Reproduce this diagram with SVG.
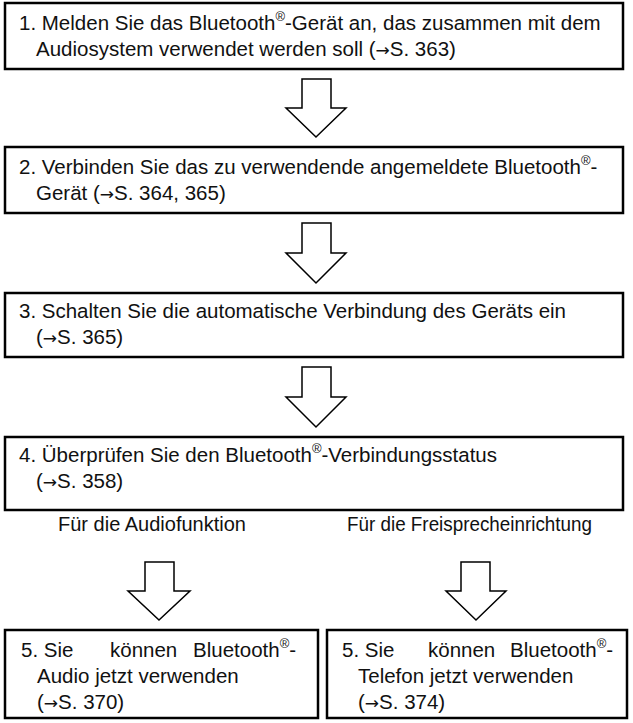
<svg xmlns="http://www.w3.org/2000/svg" width="633" height="723" viewBox="0 0 633 723">
<style>
.b{fill:#fff;stroke:#000;stroke-width:2.5}
.a{fill:#fff;stroke:#000;stroke-width:1.5}
text{font-family:"Liberation Sans",Arial,sans-serif;font-size:20.5px;fill:#111}
.s{font-size:13px}
.r{font-family:"DejaVu Sans",sans-serif;font-size:17px}
</style>
<rect width="633" height="723" fill="#fff"/>
<g id="connectors">
<path class="a" d="M302,79 H331 V108 H346 L316,137 L286,108 H302 Z"/>
<path class="a" d="M302,223 H331 V253 H346 L316,283 L286,253 H302 Z"/>
<path class="a" d="M302,367 H331 V397 H346 L316,427 L286,397 H302 Z"/>
<path class="a" d="M145,562 H174 V591 H190 L159,620 L128,591 H145 Z"/>
<path class="a" d="M461,562 H490 V591 H506 L476,620 L446,591 H461 Z"/>
</g>
<g id="n1"><rect class="b" x="5" y="3" width="618" height="66"/>
<text x="19" y="30">1. Melden Sie das Bluetooth<tspan class="s" dy="-9">®</tspan><tspan dy="9">-Gerät an, das zusammen mit dem</tspan></text>
<text x="36" y="56">Audiosystem verwendet werden soll (<tspan class="r">→</tspan>S. 363)</text></g>
<g id="n2"><rect class="b" x="5" y="147" width="618" height="66"/>
<text x="19" y="174">2. Verbinden Sie das zu verwendende angemeldete Bluetooth<tspan class="s" dy="-9">®</tspan><tspan dy="9">-</tspan></text>
<text x="36" y="200">Gerät (<tspan class="r">→</tspan>S. 364, 365)</text></g>
<g id="n3"><rect class="b" x="5" y="293" width="618" height="64"/>
<text x="19" y="318">3. Schalten Sie die automatische Verbindung des Geräts ein</text>
<text x="36" y="344">(<tspan class="r">→</tspan>S. 365)</text></g>
<g id="n4"><rect class="b" x="5" y="437" width="618" height="73"/>
<text x="19" y="462">4. Überprüfen Sie den Bluetooth<tspan class="s" dy="-9">®</tspan><tspan dy="9">-Verbindungsstatus</tspan></text>
<text x="36" y="488">(<tspan class="r">→</tspan>S. 358)</text></g>
<g id="l1"><text x="58" y="531" textLength="188" lengthAdjust="spacingAndGlyphs">Für die Audiofunktion</text></g>
<g id="l2"><text x="347" y="531" textLength="245" lengthAdjust="spacingAndGlyphs">Für die Freisprecheinrichtung</text></g>
<g id="n5a"><rect class="b" x="5" y="630" width="313" height="88"/>
<text x="21" y="657">5. Sie</text><text x="110" y="657">können</text>
<text x="193" y="657">Bluetooth<tspan class="s" dy="-9">®</tspan><tspan dy="9">-</tspan></text>
<text x="37" y="683">Audio jetzt verwenden</text>
<text x="37" y="709">(<tspan class="r">→</tspan>S. 370)</text></g>
<g id="n5b"><rect class="b" x="327" y="630" width="300" height="88"/>
<text x="342" y="657">5. Sie</text><text x="428" y="657">können</text>
<text x="510" y="657">Bluetooth<tspan class="s" dy="-9">®</tspan><tspan dy="9">-</tspan></text>
<text x="358" y="683">Telefon jetzt verwenden</text>
<text x="358" y="709">(<tspan class="r">→</tspan>S. 374)</text></g>
</svg>
